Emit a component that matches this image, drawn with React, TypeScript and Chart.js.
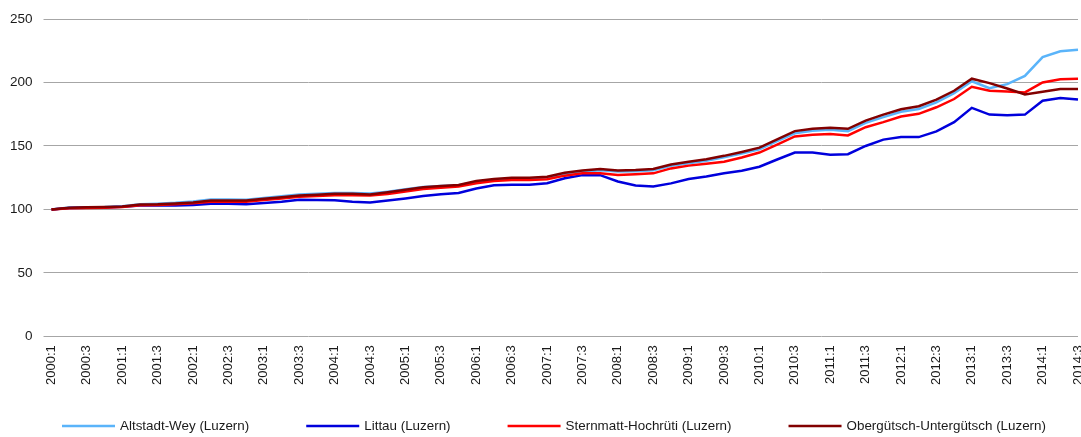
import React, { useEffect, useRef } from "react";
import { Chart, registerables } from "chart.js";

Chart.register(...registerables);

const years = [2000, 2001, 2002, 2003, 2004, 2005, 2006, 2007, 2008, 2009, 2010, 2011, 2012, 2013, 2014];
const quarterLabels: string[] = [];
years.forEach((y) => {
  [1, 2, 3, 4].forEach((q) => {
    if (y === 2014 && q === 4) return;
    quarterLabels.push(`${y}:${q}`);
  });
});

const seriesNames = [
  "Altstadt-Wey (Luzern)",
  "Littau (Luzern)",
  "Sternmatt-Hochrüti (Luzern)",
  "Obergütsch-Untergütsch (Luzern)",
];

const seriesColors = ["#5ab4fa", "#0000dc", "#ff0000", "#820000"];

const altstadt = [
  100, 101.4, 101.7, 101.9, 102.5, 104, 104.5, 105.2, 106.3, 107.8, 107.8, 107.6, 109, 110.3, 111.8, 112.3,
  113, 113, 112.5, 114, 115.8, 117.6, 118.4, 119, 121.5, 123.3, 124.2, 124.2, 124.8, 127.8, 129.7, 130.8,
  129.8, 130, 130.8, 134.3, 136.3, 138.3, 141, 144, 147.3, 153.8, 160, 162, 162.7, 161.7, 168.2, 172.7,
  177, 179.2, 184.4, 191.6, 201, 195.6, 198.7, 205.2, 220, 224.7, 225.8,
];

const littau = [
  100, 101, 101.3, 101.5, 102, 103, 103, 103, 103.5, 104.5, 104.5, 104, 105, 106, 107.5, 107.3,
  107.2, 106, 105.5, 107, 108.6, 110.5, 112, 113, 116.5, 119, 119.5, 119.5, 120.6, 124.5, 127, 127,
  122, 118.8, 118, 120.5, 124, 126, 128.5, 130.5, 133.6, 139.3, 144.8, 144.8, 143, 143.5, 150, 155,
  157, 157, 161.5, 168.8, 180, 174.7, 174.2, 174.7, 185.7, 187.8, 186.7,
];

const sternmatt = [
  100, 100.8, 101, 101.3, 101.8, 103.3, 103.5, 104, 104.8, 106, 106, 106, 107.3, 108.5, 110, 110.5,
  111.2, 111.2, 110.9, 112.2, 114, 116, 117, 118, 120.6, 122.4, 123.2, 123.2, 123.7, 126.6, 128.4, 128.4,
  127.1, 127.6, 128.4, 132.3, 134.5, 136, 137.5, 140.9, 144.8, 151, 157.5, 158.8, 159.4, 158.3, 164.8, 168.8,
  173.2, 175.3, 180.5, 187, 196.6, 193.5, 193, 192.2, 200, 202.6, 203,
];

const obergutsch = [
  100, 101.3, 101.6, 101.8, 102.3, 103.8, 104, 104.6, 105.5, 107, 107, 107, 108.3, 109.5, 111, 111.5,
  112.3, 112.3, 111.8, 113.5, 115.4, 117.5, 118.4, 119.3, 122.4, 124, 125, 125, 125.8, 128.9, 130.7, 131.8,
  130.7, 131, 131.8, 135.4, 137.5, 139.6, 142.2, 145.3, 148.7, 155.2, 161.7, 163.5, 164.3, 163.5, 170, 174.7,
  178.9, 181.3, 186.5, 193.5, 203, 199.5, 195.3, 190.6, 192.7, 194.8, 194.8,
];

const seriesValues = [altstadt, littau, sternmatt, obergutsch];

const yTicks = [0, 50, 100, 150, 200, 250];

const FONT = '"Liberation Sans", Arial, Helvetica, sans-serif';

const legendPlugin = {
  id: "bottomLegend",
  afterDraw(chart: any) {
    const ctx = chart.ctx as CanvasRenderingContext2D;
    ctx.save();
    ctx.font = `13.4px ${FONT}`;
    ctx.textBaseline = "middle";
    ctx.textAlign = "left";
    const y = 426;
    let x = 62;
    chart.data.datasets.forEach((ds: any) => {
      ctx.strokeStyle = ds.borderColor;
      ctx.lineWidth = 2.5;
      ctx.beginPath();
      ctx.moveTo(x, y);
      ctx.lineTo(x + 53, y);
      ctx.stroke();
      ctx.fillStyle = "#1a1a1a";
      ctx.fillText(ds.label, x + 58, y);
      x += 58 + ctx.measureText(ds.label).width + 57;
    });
    ctx.restore();
  },
};

export default function App() {
  const canvasRef = useRef<HTMLCanvasElement | null>(null);

  useEffect(() => {
    if (!canvasRef.current) return;
    const chart = new Chart(canvasRef.current, {
      type: "line",
      data: {
        labels: quarterLabels,
        datasets: seriesNames.map((name, i) => ({
          label: name,
          data: seriesValues[i],
          borderColor: seriesColors[i],
          backgroundColor: seriesColors[i],
          borderWidth: 2.5,
          pointRadius: 0,
          tension: 0,
          fill: false,
          order: seriesNames.length - 1 - i,
        })),
      },
      options: {
        animation: false,
        responsive: true,
        maintainAspectRatio: false,
        layout: { padding: { left: -1, right: 3, top: 16, bottom: 43 } },
        plugins: {
          legend: { display: false },
          tooltip: { enabled: false },
        },
        scales: {
          x: {
            offset: false,
            grid: { display: false, drawTicks: false },
            border: { display: false },
            ticks: {
              autoSkip: false,
              maxRotation: 90,
              minRotation: 90,
              padding: 9,
              color: "#1a1a1a",
              font: { family: FONT, size: 13 },
              callback: (_v: any, i: number) => (i % 2 === 0 ? quarterLabels[i] : null),
            },
            afterFit: (scale: any) => {
              scale.paddingLeft = 0;
              scale.paddingRight = 0;
            },
          },
          y: {
            min: 0,
            max: 250,
            afterBuildTicks: (axis: any) => {
              axis.ticks = yTicks.map((v) => ({ value: v }));
            },
            grid: { color: "#a6a6a6", lineWidth: 1, tickLength: 8 },
            border: { display: false },
            ticks: {
              padding: 11,
              color: "#1a1a1a",
              font: { family: FONT, size: 13.5 },
            },
          },
        },
      },
      plugins: [legendPlugin],
    });
    return () => chart.destroy();
  }, []);

  return (
    <div style={{ position: "absolute", left: 0, top: 0, width: 1081, height: 437 }}>
      <canvas ref={canvasRef} />
    </div>
  );
}
